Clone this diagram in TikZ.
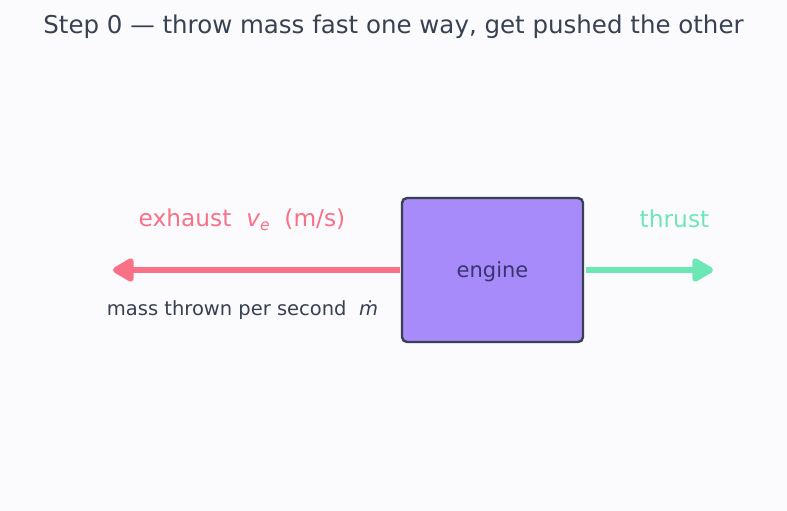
\documentclass[tikz,border=0pt]{standalone}
\usepackage{fontspec}
\setmainfont{DejaVu Sans}
\usetikzlibrary{arrows.meta}
\definecolor{bg}{HTML}{FBFBFE}
\definecolor{ink}{HTML}{374151}
\definecolor{pinkc}{HTML}{F87187}
\definecolor{greenc}{HTML}{6EE7B7}
\definecolor{purp}{HTML}{A78BFA}
\definecolor{engtext}{HTML}{3B3470}
\tikzset{
  box/.style={draw=ink, line width=2.4pt, fill=purp, rounded corners=5pt, minimum width=181pt, minimum height=144pt, inner sep=0pt},
  flow/.style={line width=6.5pt, -{Triangle[length=24pt,width=26pt,round]}, line join=round},
  lbl/.style={inner sep=0pt, anchor=center}
}
\begin{document}
\begin{tikzpicture}[x=1pt,y=-1pt]
\fill[bg] (0,0) rectangle (787,511);
\useasboundingbox (0,0) rectangle (787,511);
\node[lbl, text=ink, font=\fontsize{24.5pt}{28pt}\selectfont] (title) at (393.5,27) {Step 0 — throw mass fast one way, get pushed the other};
\node[box] (eng) at (492.5,270) {};
\node[lbl, text=engtext, font=\fontsize{21pt}{24pt}\selectfont] (englbl) at ([yshift=-1.5pt]eng.center) {engine};
\coordinate (lt) at (113,270);
\coordinate (rt) at (713,270);
\draw[flow, draw=pinkc, fill=pinkc] ([xshift=-1pt]eng.west) -- (lt);
\draw[flow, draw=greenc, fill=greenc] ([xshift=1.5pt]eng.east) -- (rt);
\node[lbl, text=pinkc, font=\fontsize{23.3pt}{26pt}\selectfont] (exh) at (242,220) {exhaust\ \ {\itshape v}\raisebox{-0.35ex}{\fontsize{15.5pt}{17pt}\selectfont\itshape e}\ \ (m/s)};
\node[lbl, text=greenc, font=\fontsize{23.3pt}{26pt}\selectfont] (thr) at (674.5,219) {thrust};
\node[lbl, text=ink, font=\fontsize{19.5pt}{22pt}\selectfont] (mass) at (242.5,310.5) {mass thrown per second\ \ {\itshape ṁ}};
\end{tikzpicture}
\end{document}
